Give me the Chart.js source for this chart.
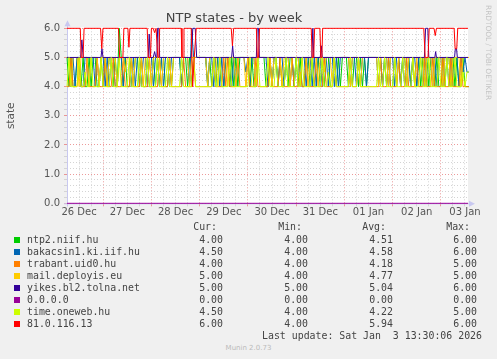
<!DOCTYPE html>
<html><head><meta charset="utf-8">
<script src="https://cdn.jsdelivr.net/npm/chart.js@4/dist/chart.umd.min.js"></script>
<style>
html,body{margin:0;padding:0;background:#F0F0F0;width:497px;height:359px;overflow:hidden;}
#wrap{position:relative;width:497px;height:359px;}
#c{position:absolute;left:0;top:0;}
.t{position:absolute;white-space:pre;font-family:"DejaVu Sans Mono",monospace;font-size:9.9px;line-height:12px;color:#444;}
.sq{position:absolute;width:6px;height:6px;}
#rrd{position:absolute;left:484px;top:5px;writing-mode:vertical-rl;font-family:"DejaVu Sans",sans-serif;font-size:7.4px;color:#c4c4c4;white-space:nowrap;line-height:9px;}
#munin{position:absolute;left:0;width:497px;text-align:center;top:343px;font-family:"DejaVu Sans",sans-serif;font-size:7px;line-height:10px;color:#bbb;}
</style></head>
<body><div id="wrap"><canvas id="c" width="497" height="222"></canvas><div id="rrd">RRDTOOL / TOBI OETIKER</div><div id="munin">Munin 2.0.73</div></div>
<script>
// ---- data ----
const categories = ['ntp2.niif.hu','bakacsin1.ki.iif.hu','trabant.uid0.hu','mail.deployis.eu','yikes.bl2.tolna.net','0.0.0.0','time.oneweb.hu','81.0.116.13'];
const seriesColors = ['#00CC00','#0066B3','#FF8000','#FFCC00','#330099','#990099','#CCFF00','#FF0000'];
const dayLabels = ['26 Dec','27 Dec','28 Dec','29 Dec','30 Dec','31 Dec','01 Jan','02 Jan','03 Jan'];
const yTickLabels = ['0.0','1.0','2.0','3.0','4.0','5.0','6.0'];
// hours since 26 Dec 00:00; noise series sampled hourly from startHour
const startHour = 6, stepHours = 1, endHour = 205.5;

const ntp2 = [
 5,4,5,4,4,5,5,4,5,4, 4,5,4,5,5,4,4,5,4,5,
 4,5,5,4,5,4,6,5,4,5, 4,4,5,4,5,5,4,5,4,4,
 5,4,4,5,4,5,4,5,5,4, 4,5,4,5,5,5,5,4,5,5,
 4,5,4,5,5,5,5,5,5,5, 4,5,4,5,4,5,5,4,4,5,
 5,4,5,4,5,4,5,5,5,5, 5,4,5,4,4,5,5,5,5,4,
 4,5,4,5,5,4,5,4,4,5, 4,5,5,4,5,4,5,4,4,5,
 5,4,5,4,4,5,4,5,4,5, 5,4,4,5,4,5,4,5,5,5,
 4,5,4,5,5,4,5,4,5,4, 5,5,5,5,5,5,5,4,5,4,
 5,4,4,5,4,5,4,5,5,4, 5,4,5,4,4,5,4,5,4,5,
 4,5,5,4,5,4,4,5,4,5, 5,4,5,4,5,4,4,5,4,4, 4];
const bakacsin1 = [
 5,5,4,5,4,5,5,4,4,5, 5,4,5,5,4,5,4,5,5,4,
 5,4,5,5,4,4,5,5,4,5, 5,5,4,5,4,5,5,4,5,5,
 4,5,5,4,5,5,4,5,4,5, 5,4,5,5,5,5,5,4,5,5,
 5,4,6,5,5,5,5,5,5,5, 4,5,5,4,5,5,4,5,4,5,
 5,5,4,5,4,5,5,5,5,4.5, 5,4,5,5,4,5,5,5,5,5,
 4,5,4,5,5,4,5,5,4,5, 5,4,5,4,5,5,4,5,5,4,
 5,5,4,5,4,5,5,4,5,5, 4,5,5,4,5,4,5,5,5,5,
 5,4,5,5,4,5,4,5,5,4, 5,5,5,5,5,4,5,4,5,5,
 4,5,5,4,5,5,4,5,4,5, 5,4,5,5,4,5,5,4,5,4,
 5,5,4,5,4,5,5,4,5,5, 4,5,4,5,5,4,5,4.5,5,4.5, 4.5];
const trabant = [
 4,4,5,4,4,4,5,4,4,4, 5,4,4,4,4,5,4,4,4,5,
 4,4,4,5,4,4,4,4,5,4, 4,4,5,4,4,4,4,5,4,4,
 4,5,4,4,4,4,5,4,4,4, 4,5,4,4,4,4,4,4,5,4,
 4,4,4,5,4,4,4,4,4,4, 4,4,4,5,4,4,4,4,5,4,
 5,4,4,4,4,5,4,4,4,4, 5,4,4,4,5,4,4,4,4,4,
 4,5,4,4,4,4,5,4,4,4, 4,4,5,4,4,4,4.5,4,4,5,
 4,4,4,4,5,4,4,4,5,4, 4,4,4,5,4,4,4,4,4,4,
 4,5,4,4,4,5,4,4,4,4, 4,4,4,4,4,4,5,4,4,4,
 5,4,4,4,4,5,4,4,4,5, 4,4,4,4,5,4,4,4,5,4,
 4,4,5,4,4,4,4,5,4,4, 4,5,4,4,4,4,5,4,4,4, 4];
const mail = [
 5,5,4,5,5,5,4,5,5,5, 5,4,5,5,5,5,4,5,5,5,
 4,5,5,5,5,4,5,5,5,4.5, 5,5,5,4,5,5,5,5,4,5,
 5,5,4,5,5,5,5,4,5,5, 5,5,4,5,5,5,5,5,5,5,
 5,4,5,5,5,5,5,5,5,5, 4,5,5,5,5,4,5,5,5,5,
 4,5,5,5,4,5,5,5,5,4, 5,5,5,5,4,5,5,5,5,5,
 5,5,4,5,5,5,5,4,5,5, 5,4,5,5,5,5,4,5,5,5,
 4,5,5,5,5,4,5,5,4.5,5, 5,5,4,5,5,5,5,5,5,5,
 5,4,5,5,5,5,4,5,5,5, 5,5,5,5,5,4,5,5,5,5,
 4,5,5,5,4,5,5,5,5,4, 5,5,5,4,5,5,5,5,4,5,
 5,5,4,5,5,5,5,4,5,5, 5,4,5,5,5,5,4,5,5,5, 5];
const timeOneweb = [
 4,5,4,4,4,4,5,4,4,4.5, 4,4,5,4,4,4,4,5,4,4,
 4,4,5,4,4,4,5,4,4,4, 4,5,4,4,4,4,5,4,4,4,
 5,4,4,4,4,5,4,4,4,4, 5,4,4,4,4,4,4,5,4,4,
 4,4,4,5,4,4,4,4,4,4, 4,4,4,5,4,4,5,4,4,4,
 4,5,4,4,4,4,4,4,4,4, 4,5,4,4,4,5,4,4,4,4,
 5,4,4,4,5,4,4,4,4,5, 4,4,4,4,5,4,4,5,4,4,
 4,4,5,4,4,4,4,5,4,4, 4.5,4,4,5,4,4,4,4,4,4,
 4,5,4,4,4,5,4,4,4,4, 4,4,4,4,4,5,4,4,5,4,
 4,4,4,5,4,4,4,5,4,4, 4,4,5,4,4,4,5,4,4,4,
 5,4,4,4,4,5,4,4,4,5, 4,4,4,5,4,4,4,4.5,4,4.5, 4.5];
// [hour, value] pairs
const yikes = [[6,5],[12.8,5],[13.4,5.6],[14.1,5],[22.9,5],[23.4,5.3],[23.9,5],[46.4,5],[46.9,5.8],[47.4,5],
  [48.9,5],[49.6,5.2],[50.2,5],[50.7,5],[51.1,6],[51.7,6],[52.1,5],[67.8,5],[68.6,6],[69.8,6],[70.5,5],
  [87.9,5],[88.4,5.4],[88.9,5],[100.2,5],[100.6,6],[101.3,6],[101.7,5],[127.8,5],[128.3,6],[128.8,5],
  [132,5],[132.5,5.4],[133,5],[183.8,5],[184.4,6],[185.5,6],[186,5],[189,5],[189.4,5.2],[189.8,5],
  [198.8,5],[199.2,5.3],[199.8,5.3],[200.2,5],[205.5,5]];
const zeroHost = [[6,0],[205.5,0]];
const host81 = [[6,6],[12.6,6],[13.1,5],[14,5],[14.5,6],[22.7,6],[23.3,5.3],[23.9,6],[31.6,6],[32.2,5],[33.8,5],[34.3,6],
  [36.3,6],[36.8,5.35],[37.3,6],[45.9,6],[46.4,5],[47.5,5],[48,6],[48.9,6],[49.6,5.85],[50.3,6],
  [50.7,6],[51.2,5],[51.7,5],[52.1,6],[62.8,6],[63.2,5],[63.8,5],[64.2,6],[67.8,6],[68.5,4],[69.3,5],[70.3,6],
  [87.7,6],[88.3,5.4],[88.9,6],[100.2,6],[100.7,5],[101.3,5],[101.8,6],[127.5,6],[128,5],[128.7,5],[129.2,6],
  [131.8,6],[132.3,5],[132.8,5],[133.2,6],[183.5,6],[184.2,5],[185.6,5],[186.2,6],[188.6,6],[189.2,5.75],[189.8,6],
  [198.6,6],[199.1,5.3],[199.9,5.3],[200.4,6],[205.5,6]];

const legendCur = [4.00,4.50,4.00,5.00,5.00,0.00,4.50,6.00];
const legendMin = [4.00,4.00,4.00,4.00,5.00,0.00,4.00,4.00];
const legendAvg = [4.51,4.58,4.18,4.77,5.04,0.00,4.22,5.94];
const legendMax = [6.00,6.00,5.00,5.00,6.00,0.00,5.00,6.00];
const lastUpdate = 'Last update: Sat Jan  3 13:30:06 2026';

// ---- build ----
const fromGrid = arr => arr.map((v,i)=>({x:startHour+i*stepHours, y:v}));
const fromPairs = arr => arr.map(p=>({x:p[0], y:p[1]}));
const seriesData = [fromGrid(ntp2), fromGrid(bakacsin1), fromGrid(trabant), fromGrid(mail),
  fromPairs(yikes), fromPairs(zeroHost), fromGrid(timeOneweb), fromPairs(host81)];

const N = categories.length;
const datasets = categories.map((name,i)=>({
  label:name, data:seriesData[i], borderColor:seriesColors[i], backgroundColor:seriesColors[i],
  borderWidth:1, pointRadius:0, tension:0, fill:false, clip:3, order:N-1-i
}));

const MAJ = 'rgba(230,120,120,0.75)', MIN = '#d4d4d4', AX = '#c8c8f0';
const bgPlugin = {
  id:'bg',
  beforeDraw(chart){
    const {ctx, chartArea:a} = chart;
    ctx.save(); ctx.fillStyle='#ffffff';
    ctx.fillRect(a.left, a.top-1, a.right-a.left, a.bottom-a.top+1);
    ctx.restore();
  },
  beforeDatasetsDraw(chart){
    const {ctx, chartArea:a} = chart;
    ctx.save(); ctx.strokeStyle=AX; ctx.fillStyle=AX; ctx.lineWidth=1;
    ctx.beginPath(); ctx.moveTo(a.left+0.5, a.bottom+3); ctx.lineTo(a.left+0.5, a.top-3); ctx.stroke();
    ctx.beginPath(); ctx.moveTo(a.left-3, a.bottom+0.5); ctx.lineTo(a.right+2, a.bottom+0.5); ctx.stroke();
    ctx.beginPath(); ctx.moveTo(a.left+0.5, a.top-8); ctx.lineTo(a.left-2.5, a.top-2); ctx.lineTo(a.left+3.5, a.top-2); ctx.closePath(); ctx.fill();
    ctx.beginPath(); ctx.moveTo(a.right+7, a.bottom+0.5); ctx.lineTo(a.right+1, a.bottom-2.5); ctx.lineTo(a.right+1, a.bottom+3.5); ctx.closePath(); ctx.fill();
    ctx.restore();
  }
};

new Chart(document.getElementById('c'), {
  type:'line',
  data:{datasets},
  plugins:[bgPlugin],
  options:{
    responsive:false, animation:false, devicePixelRatio:1,
    layout:{padding:{left:0,right:29,top:0,bottom:0}},
    plugins:{
      legend:{display:false}, tooltip:{enabled:false},
      title:{display:true, text:'NTP states - by week', color:'#444',
        font:{family:'DejaVu Sans', size:13, weight:'normal'}, padding:{top:11.2,bottom:1.5}}
    },
    scales:{
      x:{type:'linear', min:startHour, max:endHour,
        afterBuildTicks(scale){ const t=[]; for(let h=6; h<=204; h+=6) t.push({value:h}); scale.ticks=t; },
        afterFit(scale){ scale.height = 18.7; },
        ticks:{autoSkip:false, maxRotation:0, padding:0, color:'#555', font:{family:'DejaVu Sans', size:10},
          callback(v){ return (v%24===12) ? dayLabels[(v-12)/24] : ''; }},
        grid:{color:c=>(c.tick && c.tick.value%24===0)?MAJ:MIN, tickColor:c=>(c.tick && c.tick.value%24===0)?MAJ:MIN, tickLength:3, drawTicks:true},
        border:{display:false, dash:[1,2]}
      },
      y:{type:'linear', min:0, max:6,
        afterFit(scale){ scale.width = 67; },
        ticks:{stepSize:0.2, autoSkip:false, padding:4, color:'#555', font:{family:'DejaVu Sans', size:10},
          callback(v){ const r=Math.round(v); return Math.abs(v-r)<1e-6 ? yTickLabels[r] : ''; }},
        grid:{color:c=>(c.tick && Math.abs(c.tick.value-Math.round(c.tick.value))<1e-6)?MAJ:MIN,
          tickColor:c=>(c.tick && Math.abs(c.tick.value-Math.round(c.tick.value))<1e-6)?MAJ:MIN, tickLength:3},
        border:{display:false, dash:[1,2]},
        title:{display:true, text:'state', color:'#555', font:{family:'DejaVu Sans', size:10.5}, padding:{top:4.5,bottom:0}}
      }
    }
  }
});

// ---- legend (text) ----
const wrap = document.getElementById('wrap');
function addText(txt, left, centerY, rightEdge){
  const d=document.createElement('div'); d.className='t'; d.textContent=txt;
  d.style.top=(centerY-6)+'px';
  if(rightEdge!==undefined){ d.style.left=(rightEdge-400)+'px'; d.style.width='400px'; d.style.textAlign='right'; }
  else d.style.left=left+'px';
  wrap.appendChild(d);
}
const hdrY = 227.3;
addText('Cur:',0,hdrY,217); addText('Min:',0,hdrY,302); addText('Avg:',0,hdrY,386); addText('Max:',0,hdrY,470);
categories.forEach((name,i)=>{
  const cy = 240 + 11.99*i;
  const sq=document.createElement('div'); sq.className='sq'; sq.style.background=seriesColors[i];
  sq.style.left='14px'; sq.style.top=(cy-3)+'px'; wrap.appendChild(sq);
  addText(name,27,cy);
  addText(legendCur[i].toFixed(2),0,cy,223);
  addText(legendMin[i].toFixed(2),0,cy,308);
  addText(legendAvg[i].toFixed(2),0,cy,393);
  addText(legendMax[i].toFixed(2),0,cy,477);
});
addText(lastUpdate,0,335.7,482);
</script></body></html>
